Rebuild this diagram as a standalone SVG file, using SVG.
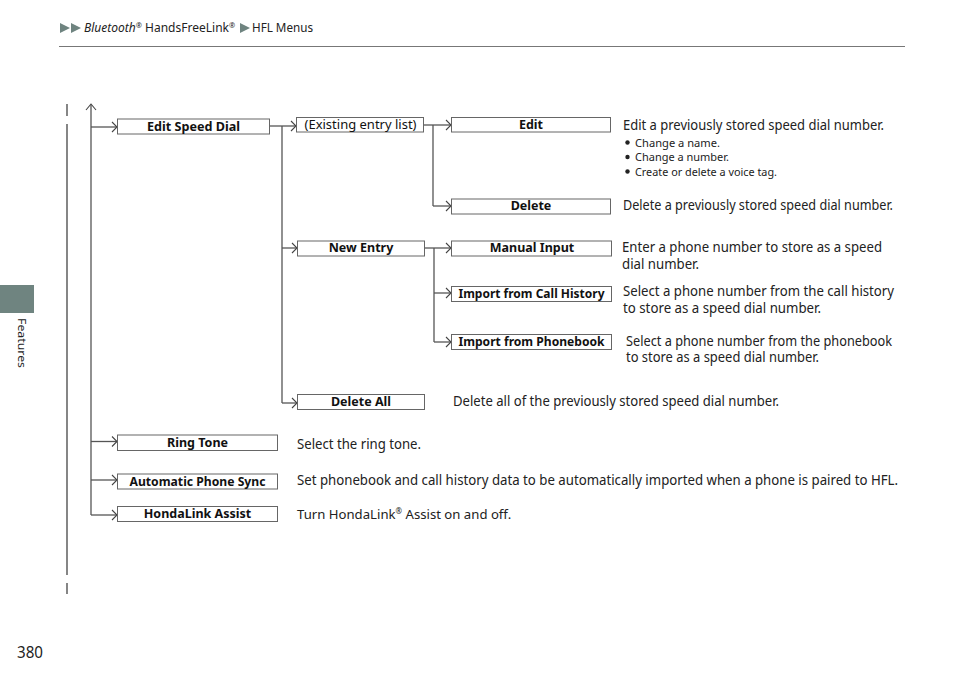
<svg xmlns="http://www.w3.org/2000/svg" width="960" height="678" viewBox="0 0 960 678">
<defs>
<marker id="arr" markerWidth="8" markerHeight="12" refX="6" refY="6" orient="auto" markerUnits="userSpaceOnUse">
<polyline points="1,1 6,6 1,11" fill="none" stroke="#444" stroke-width="1.1"/>
</marker>
<style>
.ln{fill:none;stroke:#555;stroke-width:1.3}
.box{fill:#fff;stroke:#666;stroke-width:1}
.lbl{font-family:"Noto Sans","Liberation Sans",sans-serif;font-weight:bold;font-size:12.5px;fill:#111;text-anchor:middle}
.lblr{font-family:"Noto Sans","Liberation Sans",sans-serif;font-size:12.5px;fill:#111;text-anchor:middle}
.d{font-family:"Noto Sans","Liberation Sans",sans-serif;font-size:13.5px;fill:#222}
.b{font-family:"Noto Sans","Liberation Sans",sans-serif;font-size:11px;fill:#222}
.hd{font-family:"Noto Sans","Liberation Sans",sans-serif;font-size:13px;fill:#222}
.sup{font-size:8px}
.tri{fill:#6f8480}
</style>
</defs>
<rect width="960" height="678" fill="#fff"/>

<!-- header -->
<g id="header">
<polygon class="tri" points="60,23 70,28 60,33"/>
<polygon class="tri" points="71,23 81,28 71,33"/>
<text class="hd" transform="translate(84,32) scale(0.925,1)"><tspan font-style="italic">Bluetooth</tspan><tspan class="sup" dy="-4">®</tspan><tspan dy="4"> HandsFreeLink</tspan><tspan class="sup" dy="-4">®</tspan></text>
<polygon class="tri" points="240,23 250,28 240,33"/>
<text class="hd" x="252" y="32" textLength="61" lengthAdjust="spacingAndGlyphs">HFL Menus</text>
<line x1="59" y1="46.5" x2="905" y2="46.5" stroke="#777" stroke-width="1"/>
</g>

<!-- side tab -->
<g id="sidetab">
<rect x="0" y="285" width="34" height="28" fill="#6f8480"/>
<text transform="translate(18,318) rotate(90)" font-family="Noto Sans, Liberation Sans, sans-serif" font-size="11.5" fill="#222" textLength="50" lengthAdjust="spacingAndGlyphs">Features</text>
</g>

<g id="margin" stroke="#444" stroke-width="1.3">
<line x1="67" y1="104" x2="67" y2="116"/>
<line x1="67" y1="124" x2="67" y2="575"/>
<line x1="67" y1="583" x2="67" y2="594"/>
</g>

<text x="17" y="658" font-family="Noto Sans, Liberation Sans, sans-serif" font-size="17" fill="#222" textLength="26" lengthAdjust="spacingAndGlyphs">380</text>

<!-- connectors -->
<g id="connectors">
<line class="ln" x1="91" y1="515" x2="91" y2="105"/>
<polyline points="86,110 91,104 96,110" fill="none" stroke="#444" stroke-width="1.1"/>
<line class="ln" x1="91" y1="127" x2="117" y2="127" marker-end="url(#arr)"/>
<line class="ln" x1="91" y1="441.5" x2="117" y2="441.5" marker-end="url(#arr)"/>
<line class="ln" x1="91" y1="480" x2="117" y2="480" marker-end="url(#arr)"/>
<polyline class="ln" points="91,515 117,515" marker-end="url(#arr)"/>

<line class="ln" x1="270" y1="126" x2="296" y2="126" marker-end="url(#arr)"/>
<line class="ln" x1="282" y1="126" x2="282" y2="403"/>
<line class="ln" x1="282" y1="248" x2="297" y2="248" marker-end="url(#arr)"/>
<line class="ln" x1="282" y1="403" x2="297" y2="403" marker-end="url(#arr)"/>

<line class="ln" x1="424" y1="125" x2="451" y2="125" marker-end="url(#arr)"/>
<line class="ln" x1="433" y1="125" x2="433" y2="206"/>
<line class="ln" x1="433" y1="206" x2="451" y2="206" marker-end="url(#arr)"/>

<line class="ln" x1="424" y1="248" x2="451" y2="248" marker-end="url(#arr)"/>
<line class="ln" x1="434" y1="248" x2="434" y2="342"/>
<line class="ln" x1="434" y1="293" x2="451" y2="293" marker-end="url(#arr)"/>
<line class="ln" x1="434" y1="342" x2="451" y2="342" marker-end="url(#arr)"/>
</g>

<!-- nodes -->
<g id="n-editspeeddial"><rect class="box" x="117.5" y="119" width="152" height="15"/><text class="lbl" x="193.5" y="131" textLength="93" lengthAdjust="spacingAndGlyphs">Edit Speed Dial</text></g>
<g id="n-existing"><rect class="box" x="296.5" y="117.5" width="127" height="14.5"/><text class="lblr" x="360.5" y="129" textLength="112" lengthAdjust="spacingAndGlyphs">(Existing entry list)</text></g>
<g id="n-edit"><rect class="box" x="451.5" y="117.5" width="159" height="14.5"/><text class="lbl" x="531" y="129">Edit</text></g>
<g id="n-delete"><rect class="box" x="451.5" y="199" width="159" height="15"/><text class="lbl" x="531" y="210">Delete</text></g>
<g id="n-newentry"><rect class="box" x="297.5" y="241" width="127" height="15"/><text class="lbl" x="361" y="252">New Entry</text></g>
<g id="n-manual"><rect class="box" x="451.5" y="241" width="160" height="15"/><text class="lbl" x="532" y="252">Manual Input</text></g>
<g id="n-callhistory"><rect class="box" x="451.5" y="286.5" width="160" height="15"/><text class="lbl" x="531.5" y="298" textLength="146" lengthAdjust="spacingAndGlyphs">Import from Call History</text></g>
<g id="n-phonebook"><rect class="box" x="451.5" y="334.5" width="160" height="15"/><text class="lbl" x="531.5" y="346" textLength="146" lengthAdjust="spacingAndGlyphs">Import from Phonebook</text></g>
<g id="n-deleteall"><rect class="box" x="297.5" y="394.5" width="127" height="15"/><text class="lbl" x="361" y="406">Delete All</text></g>
<g id="n-ringtone"><rect class="box" x="117.5" y="435" width="160" height="15.5"/><text class="lbl" x="197.5" y="446.5">Ring Tone</text></g>
<g id="n-autosync"><rect class="box" x="117.5" y="474" width="160" height="15"/><text class="lbl" x="197.5" y="485.5" textLength="136" lengthAdjust="spacingAndGlyphs">Automatic Phone Sync</text></g>
<g id="n-hondalink"><rect class="box" x="117.5" y="506.5" width="160" height="15"/><text class="lbl" x="197.5" y="518">HondaLink Assist</text></g>

<!-- descriptions -->
<g id="descriptions">
<text class="d" x="623" y="130" textLength="261" lengthAdjust="spacingAndGlyphs">Edit a previously stored speed dial number.</text>
<circle cx="627.5" cy="142.5" r="2.2" fill="#222"/>
<text class="b" x="635" y="146.5" textLength="85" lengthAdjust="spacingAndGlyphs">Change a name.</text>
<circle cx="627.5" cy="157" r="2.2" fill="#222"/>
<text class="b" x="635" y="161" textLength="94" lengthAdjust="spacingAndGlyphs">Change a number.</text>
<circle cx="627.5" cy="171.5" r="2.2" fill="#222"/>
<text class="b" x="635" y="175.5" textLength="142" lengthAdjust="spacingAndGlyphs">Create or delete a voice tag.</text>
<text class="d" x="623" y="210" textLength="270" lengthAdjust="spacingAndGlyphs">Delete a previously stored speed dial number.</text>
<text class="d" x="622" y="251.5" textLength="260" lengthAdjust="spacingAndGlyphs">Enter a phone number to store as a speed</text>
<text class="d" x="622" y="268.5" textLength="77" lengthAdjust="spacingAndGlyphs">dial number.</text>
<text class="d" x="623" y="296" textLength="271" lengthAdjust="spacingAndGlyphs">Select a phone number from the call history</text>
<text class="d" x="623" y="313" textLength="198" lengthAdjust="spacingAndGlyphs">to store as a speed dial number.</text>
<text class="d" x="626" y="345.5" textLength="266" lengthAdjust="spacingAndGlyphs">Select a phone number from the phonebook</text>
<text class="d" x="626" y="362" textLength="193" lengthAdjust="spacingAndGlyphs">to store as a speed dial number.</text>
<text class="d" x="453" y="405.5" textLength="326" lengthAdjust="spacingAndGlyphs">Delete all of the previously stored speed dial number.</text>
<text class="d" x="297" y="449" textLength="124" lengthAdjust="spacingAndGlyphs">Select the ring tone.</text>
<text class="d" x="297" y="484.5" textLength="601" lengthAdjust="spacingAndGlyphs">Set phonebook and call history data to be automatically imported when a phone is paired to HFL.</text>
<text class="d" transform="translate(297,518.5) scale(0.975,1)">Turn HondaLink<tspan class="sup" dy="-4.5">®</tspan><tspan dy="4.5"> Assist on and off.</tspan></text>
</g>
</svg>
